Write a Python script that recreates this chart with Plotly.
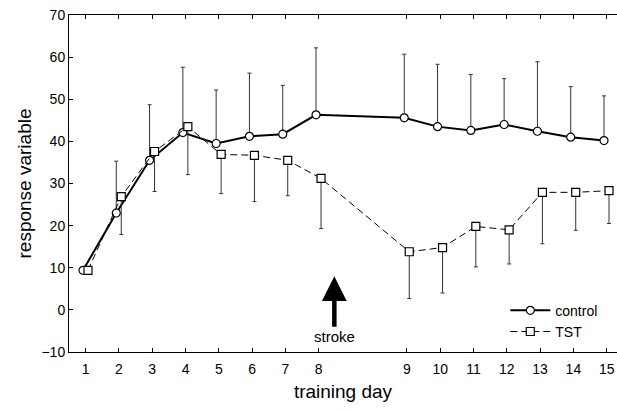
import plotly.graph_objects as go

# ---- data -------------------------------------------------------------
day_labels = [str(d) for d in range(1, 16)]
# axis position of each training day (a gap after day 8 marks the stroke)
day_pos = [1, 2, 3, 4, 5, 6, 7, 8, 10.65, 11.65, 12.65, 13.65, 14.65, 15.65, 16.65]

control_mean = [9.4, 23.0, 35.5, 42.1, 39.5, 41.2, 41.7, 46.3,
                45.6, 43.5, 42.6, 44.0, 42.4, 41.0, 40.2]
control_upper = [9.4, 35.3, 48.7, 57.6, 52.2, 56.2, 53.3, 62.2,
                 60.7, 58.3, 55.9, 54.9, 58.9, 53.0, 50.8]

tst_mean = [9.4, 26.9, 37.6, 43.5, 36.9, 36.7, 35.5, 31.2,
            13.8, 14.8, 19.8, 19.0, 27.9, 27.9, 28.3]
tst_lower = [9.4, 17.9, 28.1, 32.1, 27.6, 25.7, 27.1, 19.3,
             2.7, 4.0, 10.2, 10.9, 15.7, 18.9, 20.5]

stroke_pos = 8.47
stroke_tip = 8.0
stroke_label_y = -6.4

y_ticks = [-10, 0, 10, 20, 30, 40, 50, 60, 70]

# ---- figure -----------------------------------------------------------
FONT = "Liberation Sans, Arial, sans-serif"
shift_c = -0.08
shift_t = 0.07

ctrl_x = [p + shift_c for p in day_pos]
tst_x = [p + shift_t for p in day_pos]

fig = go.Figure()

fig.add_trace(go.Scatter(
    x=ctrl_x, y=control_mean, name="control", mode="lines+markers",
    line=dict(color="black", width=2),
    marker=dict(symbol="circle", size=8, color="white",
                line=dict(color="black", width=1.2)),
    error_y=dict(type="data", symmetric=False,
                 array=[u - m for u, m in zip(control_upper, control_mean)],
                 arrayminus=[0] * len(control_mean),
                 color="#333333", thickness=1, width=2),
))

fig.add_trace(go.Scatter(
    x=tst_x, y=tst_mean, name="TST", mode="lines+markers",
    line=dict(color="black", width=1, dash="7px,4px"),
    marker=dict(symbol="square", size=8, color="white",
                line=dict(color="black", width=1.2)),
    error_y=dict(type="data", symmetric=False,
                 array=[0] * len(tst_mean),
                 arrayminus=[m - l for m, l in zip(tst_mean, tst_lower)],
                 color="#333333", thickness=1, width=2),
))

fig.add_annotation(
    x=stroke_pos, y=stroke_tip, ax=stroke_pos, ay=stroke_label_y,
    xref="x", yref="y", axref="x", ayref="y",
    text="stroke", showarrow=True,
    arrowhead=2, arrowsize=1.1, arrowwidth=4.5, arrowcolor="black",
    font=dict(family=FONT, size=15, color="black"),
)

fig.update_layout(
    width=617, height=409,
    margin=dict(l=69, r=0, t=15, b=57, autoexpand=False),
    paper_bgcolor="white", plot_bgcolor="white",
    font=dict(family=FONT, size=13, color="black"),
    showlegend=True,
    legend=dict(x=0.975, y=0.17, xanchor="right", yanchor="top",
                bgcolor="rgba(0,0,0,0)", font=dict(family=FONT, size=14),
                tracegroupgap=0, itemwidth=40),
)

fig.update_xaxes(
    range=[0.5, 16.96], automargin=False,
    tickmode="array", tickvals=day_pos, ticktext=day_labels,
    ticks="inside", ticklen=4, tickcolor="black",
    showline=True, linecolor="black", linewidth=1, mirror="ticks",
    showgrid=False, zeroline=False,
    tickfont=dict(family=FONT, size=14), ticklabelstandoff=4,
    title=dict(text="training day", font=dict(family=FONT, size=19), standoff=8),
)

fig.update_yaxes(
    range=[-10, 70], automargin=False,
    tickmode="array", tickvals=y_ticks,
    ticks="inside", ticklen=4, tickcolor="black",
    showline=True, linecolor="black", linewidth=1, mirror=False,
    showgrid=False, zeroline=False,
    tickfont=dict(family=FONT, size=14),
    title=dict(text="response variable", font=dict(family=FONT, size=19), standoff=4),
)

fig.write_html("out.html", config={"displayModeBar": False},
               post_script="document.body.style.margin='0';document.body.style.padding='0';")
